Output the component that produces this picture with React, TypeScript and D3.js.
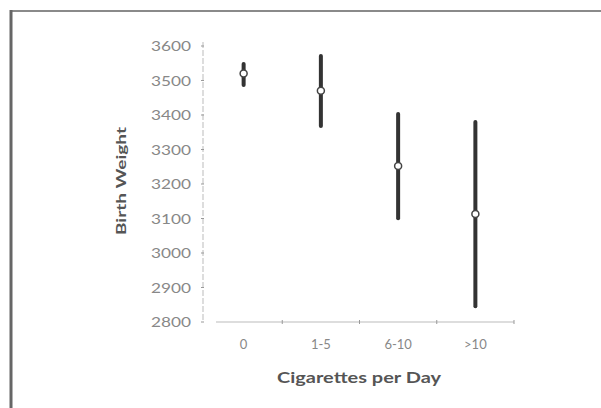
import React, { useRef, useEffect } from 'react';
import * as d3 from 'd3';

const categories = ['0', '1-5', '6-10', '>10'];
const means = [3520, 3470, 3252, 3113];
const lows = [3487, 3368, 3101, 2846];
const highs = [3548, 3571, 3403, 3380];
const yTicks = [2800, 2900, 3000, 3100, 3200, 3300, 3400, 3500, 3600];

const App = () => {
  const ref = useRef<SVGSVGElement>(null);

  useEffect(() => {
    const svg = d3.select(ref.current);
    svg.selectAll('*').remove();
    const width = 601;
    const height = 408;
    const font = 'Lato, "DejaVu Sans", sans-serif';

    svg.append('rect').attr('width', width).attr('height', height).attr('fill', '#fff');

    // frame
    svg.append('line')
      .attr('x1', 10).attr('x2', width).attr('y1', 11).attr('y2', 11)
      .attr('stroke', '#8a8a8a').attr('stroke-width', 2);
    svg.append('line')
      .attr('x1', 11).attr('x2', 11).attr('y1', 10).attr('y2', height)
      .attr('stroke', '#666').attr('stroke-width', 3);

    const x = d3.scaleBand().domain(categories).range([205, 514]);
    const y = d3.scaleLinear().domain([2800, 3600]).range([322, 46]);

    // y axis
    svg.append('line')
      .attr('x1', 203).attr('x2', 203).attr('y1', 42).attr('y2', 322)
      .attr('stroke', '#bbb').attr('stroke-width', 1).attr('stroke-dasharray', '6,2');
    const yg = svg.append('g');
    yg.selectAll('line').data(yTicks).enter().append('line')
      .attr('x1', 201).attr('x2', 204)
      .attr('y1', d => y(d)).attr('y2', d => y(d))
      .attr('stroke', '#999');
    yg.selectAll('text').data(yTicks).enter().append('text')
      .attr('x', 191).attr('y', d => y(d) + 5)
      .attr('text-anchor', 'end')
      .attr('font-family', font).attr('font-size', 14)
      .attr('fill', '#888')
      .attr('textLength', 40).attr('lengthAdjust', 'spacingAndGlyphs')
      .text(d => d);

    // x axis
    svg.append('line')
      .attr('x1', 216).attr('x2', 514).attr('y1', 322).attr('y2', 322)
      .attr('stroke', '#bbb');
    const bounds = categories.slice(1).map(c => x(c) as number).concat([514]);
    svg.selectAll('.xt').data(bounds).enter().append('line')
      .attr('class', 'xt')
      .attr('x1', d => d).attr('x2', d => d).attr('y1', 320).attr('y2', 324)
      .attr('stroke', '#999');
    svg.selectAll('.xl').data(categories).enter().append('text')
      .attr('class', 'xl')
      .attr('x', d => (x(d) as number) + x.bandwidth() / 2)
      .attr('y', 349)
      .attr('text-anchor', 'middle')
      .attr('font-family', font).attr('font-size', 13)
      .attr('fill', '#888')
      .text(d => d);

    // error bars
    const cx = (i: number) => (x(categories[i]) as number) + x.bandwidth() / 2;
    svg.selectAll('.err').data(means).enter().append('line')
      .attr('class', 'err')
      .attr('x1', (d, i) => cx(i)).attr('x2', (d, i) => cx(i))
      .attr('y1', (d, i) => y(highs[i])).attr('y2', (d, i) => y(lows[i]))
      .attr('stroke', '#333').attr('stroke-width', 4).attr('stroke-linecap', 'round');
    svg.selectAll('.pt').data(means).enter().append('circle')
      .attr('class', 'pt')
      .attr('cx', (d, i) => cx(i)).attr('cy', d => y(d))
      .attr('r', 3.5)
      .attr('fill', '#fff').attr('stroke', '#444').attr('stroke-width', 1.5);

    // axis titles
    svg.append('text')
      .attr('transform', 'translate(126,181) rotate(-90)')
      .attr('text-anchor', 'middle')
      .attr('font-family', font).attr('font-size', 14).attr('font-weight', 'bold')
      .attr('fill', '#555')
      .attr('textLength', 108).attr('lengthAdjust', 'spacingAndGlyphs')
      .text('Birth Weight');
    svg.append('text')
      .attr('x', 359).attr('y', 383)
      .attr('text-anchor', 'middle')
      .attr('font-family', font).attr('font-size', 15).attr('font-weight', 'bold')
      .attr('fill', '#555')
      .attr('textLength', 164).attr('lengthAdjust', 'spacingAndGlyphs')
      .text('Cigarettes per Day');
  }, []);

  return (
    <svg ref={ref} width={601} height={408}
      style={{ position: 'absolute', left: 0, top: 0, display: 'block' }} />
  );
};

export default App;
